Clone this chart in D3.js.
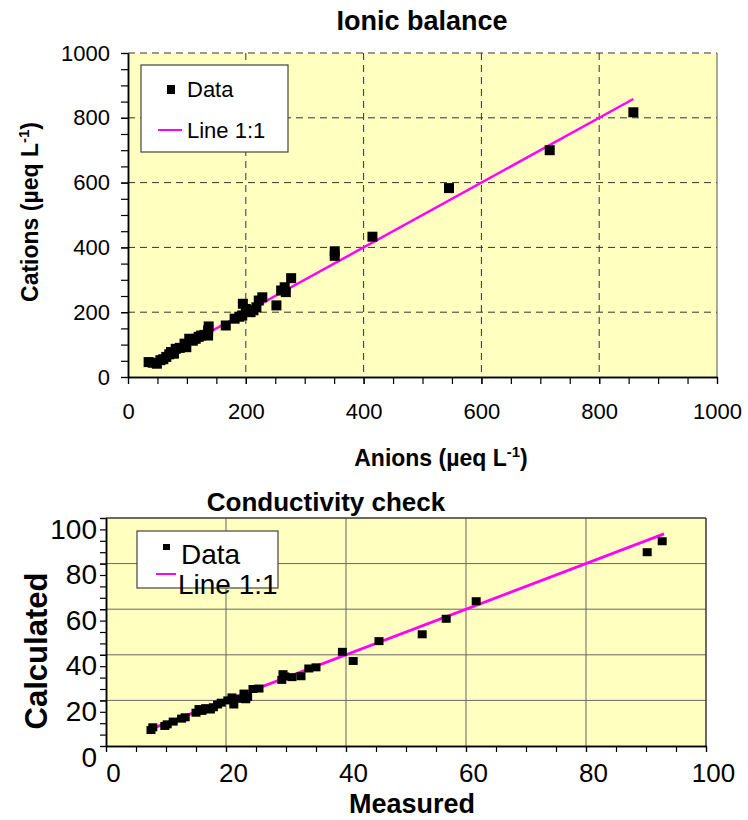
<!DOCTYPE html>
<html>
<head>
<meta charset="utf-8">
<script src="https://cdn.jsdelivr.net/npm/d3@7"></script>
<style>
  body { margin: 0; background: #fff; }
  svg { font-family: "Liberation Sans", Arial, sans-serif; }
</style>
</head>
<body>
<div id="chart"></div>
<script>
// Ionic balance data (µeq/L)
const ionicAnions = [35, 42, 49, 55, 60, 65, 70, 73, 78, 81, 88, 96, 99, 104, 110, 115, 120, 124, 130, 136, 136, 137,
  166, 181, 189, 194, 195, 200, 208, 213, 218, 222, 228, 252, 260, 266, 268, 277, 351, 351, 415, 545, 716, 858];
const ionicCations = [46, 44, 41, 52, 55, 62, 70, 77, 72, 87, 90, 103, 92, 118, 112, 118, 124, 128, 130, 128, 144, 156,
  159, 180, 186, 190, 226, 210, 200, 206, 215, 236, 246, 221, 267, 277, 262, 305, 374, 388, 433, 583, 700, 817];
const ionicLine = [35, 858];
const ionicTicks = [0, 200, 400, 600, 800, 1000];

// Conductivity check data
const condMeasured = [7.5, 7.8, 9.8, 10.2, 11.2, 12.6, 13.2, 15, 15.5, 16, 16.6, 17.4, 17.9, 18.6, 19.2, 20.3, 21, 21.3,
  22, 23, 23.3, 23.6, 24.5, 25.5, 29.3, 29.5, 29.8, 31, 32.5, 33.8, 35, 39.4, 41.2, 45.5, 52.7, 56.7, 61.7, 90.2, 92.7];
const condCalculated = [7, 8.2, 8.8, 9.5, 10.7, 12, 12.6, 14.6, 16.2, 15.4, 16.6, 16, 17, 18.2, 19, 20, 21.3, 18.2,
  20.7, 23, 20.5, 21.5, 25, 25.2, 29, 31.5, 30.5, 30.2, 30.6, 34, 34.5, 41.3, 37.3, 46, 49, 55.8, 63.5, 85, 89.8];
const condLine = [7, 93];
const condTicks = [0, 20, 40, 60, 80, 100];

const svg = d3.select("#chart").append("svg").attr("width", 748).attr("height", 820);
const bg = "#ffffc0";

// ---------- Ionic balance ----------
const x1 = d3.scaleLinear().domain([0, 1000]).range([128, 717]);
const y1 = d3.scaleLinear().domain([0, 1000]).range([377, 53]);

svg.append("rect").attr("x", 128).attr("y", 53).attr("width", 589).attr("height", 324).attr("fill", bg);

const grid1 = svg.append("g").attr("stroke", "#333").attr("stroke-width", 1).attr("stroke-dasharray", "7,5");
grid1.selectAll(".gx").data(ionicTicks.slice(1, 5)).join("line")
  .attr("x1", d => x1(d)).attr("x2", d => x1(d)).attr("y1", y1(1000)).attr("y2", y1(0));
grid1.selectAll(".gy").data(ionicTicks.slice(1)).join("line")
  .attr("x1", x1(0)).attr("x2", x1(1000)).attr("y1", d => y1(d)).attr("y2", d => y1(d));
svg.append("line").attr("x1", x1(1000)).attr("x2", x1(1000)).attr("y1", y1(1000)).attr("y2", y1(0))
  .attr("stroke", "#555");

// Axes: minor ticks every 50, labels every 200
function styleAxis(g, size) {
  g.select(".domain").attr("stroke", "#000").attr("stroke-width", 1.5);
  g.selectAll(".tick line").attr("stroke", "#000").attr("stroke-width", 1.2);
  g.selectAll("text").attr("font-size", size).attr("fill", "#000").attr("font-family", "Liberation Sans, Arial");
}
const fmt = d3.format("d");
svg.append("g").attr("transform", `translate(0,${y1(0)})`)
  .call(d3.axisBottom(x1).tickValues(d3.range(0, 1001, 50)).tickFormat("").tickSize(7).tickSizeOuter(0))
  .call(g => styleAxis(g, 22));
svg.append("g").attr("transform", `translate(0,${y1(0)})`)
  .call(d3.axisBottom(x1).tickValues(ionicTicks).tickFormat(fmt).tickSize(7).tickPadding(19).tickSizeOuter(0))
  .call(g => styleAxis(g, 22));
svg.append("g").attr("transform", `translate(${x1(0)},0)`)
  .call(d3.axisLeft(y1).tickValues(d3.range(0, 1001, 50)).tickFormat("").tickSize(7).tickSizeOuter(0))
  .call(g => styleAxis(g, 22));
svg.append("g").attr("transform", `translate(${x1(0)},0)`)
  .call(d3.axisLeft(y1).tickValues(ionicTicks).tickFormat(fmt).tickSize(7).tickPadding(11).tickSizeOuter(0))
  .call(g => styleAxis(g, 22));

// 1:1 line and data
svg.append("line")
  .attr("x1", x1(ionicLine[0])).attr("y1", y1(ionicLine[0]))
  .attr("x2", x1(ionicLine[1])).attr("y2", y1(ionicLine[1]))
  .attr("stroke", "#ff00ff").attr("stroke-width", 2.5);
svg.append("g").selectAll("rect").data(ionicAnions).join("rect")
  .attr("x", d => x1(d) - 5).attr("y", (d, i) => y1(ionicCations[i]) - 5)
  .attr("width", 10).attr("height", 10).attr("fill", "#000");

// legend
const leg1 = svg.append("g");
leg1.append("rect").attr("x", 141).attr("y", 65).attr("width", 147).attr("height", 87)
  .attr("fill", "#fff").attr("stroke", "#444").attr("stroke-width", 1.2);
leg1.append("rect").attr("x", 167).attr("y", 85).attr("width", 8).attr("height", 9).attr("fill", "#000");
leg1.append("text").attr("x", 187).attr("y", 97).attr("font-size", 22).text("Data");
leg1.append("line").attr("x1", 158).attr("x2", 182).attr("y1", 130).attr("y2", 130)
  .attr("stroke", "#ff00ff").attr("stroke-width", 2);
leg1.append("text").attr("x", 187).attr("y", 138).attr("font-size", 22).text("Line 1:1");

// titles
svg.append("text").attr("x", 422).attr("y", 30).attr("text-anchor", "middle")
  .attr("font-size", 27).attr("font-weight", "bold").text("Ionic balance");
const xl1 = svg.append("text").attr("x", 441).attr("y", 466).attr("text-anchor", "middle")
  .attr("font-size", 23).attr("font-weight", "bold");
xl1.append("tspan").text("Anions (µeq L");
xl1.append("tspan").attr("dy", -9).attr("font-size", 15).text("-1");
xl1.append("tspan").attr("dy", 9).text(")");
const yl1 = svg.append("text").attr("transform", "translate(38,212) rotate(-90)").attr("text-anchor", "middle")
  .attr("font-size", 23).attr("font-weight", "bold");
yl1.append("tspan").text("Cations (µeq L");
yl1.append("tspan").attr("dy", -9).attr("font-size", 15).text("-1");
yl1.append("tspan").attr("dy", 9).text(")");

// ---------- Conductivity check ----------
const x2 = d3.scaleLinear().domain([0, 100]).range([106, 706]);
const y2 = d3.scaleLinear().domain([0, 100]).range([746, 518]);

svg.append("rect").attr("x", 106).attr("y", 518).attr("width", 600).attr("height", 228).attr("fill", bg);
const grid2 = svg.append("g").attr("stroke", "#666").attr("stroke-width", 1);
grid2.selectAll(".gx").data(condTicks.slice(1)).join("line")
  .attr("x1", d => x2(d)).attr("x2", d => x2(d)).attr("y1", y2(100)).attr("y2", y2(0));
grid2.selectAll(".gy").data(condTicks.slice(1)).join("line")
  .attr("x1", x2(0)).attr("x2", x2(100)).attr("y1", d => y2(d)).attr("y2", d => y2(d));
svg.append("line").attr("x1", x2(0)).attr("x2", x2(100)).attr("y1", y2(100)).attr("y2", y2(100)).attr("stroke", "#222");
svg.append("line").attr("x1", x2(100)).attr("x2", x2(100)).attr("y1", y2(100)).attr("y2", y2(0)).attr("stroke", "#222");

svg.append("g").attr("transform", `translate(0,${y2(0)})`)
  .call(d3.axisBottom(x2).tickValues(d3.range(0, 101, 5)).tickFormat("").tickSize(6).tickSizeOuter(0))
  .call(g => styleAxis(g, 26));
svg.append("g").attr("transform", `translate(0,${y2(0)})`)
  .call(d3.axisBottom(x2).tickValues(condTicks).tickSize(6).tickPadding(12).tickSizeOuter(0))
  .call(g => styleAxis(g, 26))
  .call(g => g.selectAll("text").attr("dx", 7));
svg.append("g").attr("transform", `translate(${x2(0)},0)`)
  .call(d3.axisLeft(y2).tickValues(d3.range(0, 101, 5)).tickFormat("").tickSize(6).tickSizeOuter(0))
  .call(g => styleAxis(g, 28));
svg.append("g").attr("transform", `translate(${x2(0)},0)`)
  .call(d3.axisLeft(y2).tickValues(condTicks).tickSize(6).tickPadding(3).tickSizeOuter(0))
  .call(g => styleAxis(g, 28))
  .call(g => g.selectAll("text").attr("dy", "0.72em"));

svg.append("line")
  .attr("x1", x2(condLine[0])).attr("y1", y2(condLine[0]))
  .attr("x2", x2(condLine[1])).attr("y2", y2(condLine[1]))
  .attr("stroke", "#ff00ff").attr("stroke-width", 3);
svg.append("g").selectAll("rect").data(condMeasured).join("rect")
  .attr("x", d => x2(d) - 4.5).attr("y", (d, i) => y2(condCalculated[i]) - 4)
  .attr("width", 9).attr("height", 8).attr("fill", "#000");

const leg2 = svg.append("g");
leg2.append("rect").attr("x", 137).attr("y", 531).attr("width", 141).attr("height", 57)
  .attr("fill", "#fff").attr("stroke", "#444").attr("stroke-width", 1.2);
leg2.append("rect").attr("x", 163).attr("y", 544).attr("width", 7).attr("height", 6).attr("fill", "#000");
leg2.append("text").attr("x", 181).attr("y", 564).attr("font-size", 28).text("Data");
leg2.append("line").attr("x1", 156).attr("x2", 176).attr("y1", 574).attr("y2", 574)
  .attr("stroke", "#ff00ff").attr("stroke-width", 2);
leg2.append("text").attr("x", 178).attr("y", 594).attr("font-size", 28).text("Line 1:1");

svg.append("text").attr("x", 412).attr("y", 813).attr("text-anchor", "middle")
  .attr("font-size", 27).attr("font-weight", "bold").text("Measured");
svg.append("text").attr("x", 326).attr("y", 511).attr("text-anchor", "middle")
  .attr("font-size", 26).attr("font-weight", "bold").text("Conductivity check");
svg.append("text").attr("transform", "translate(47,651) rotate(-90)").attr("text-anchor", "middle")
  .attr("font-size", 31).attr("font-weight", "bold").text("Calculated");
</script>
</body>
</html>
